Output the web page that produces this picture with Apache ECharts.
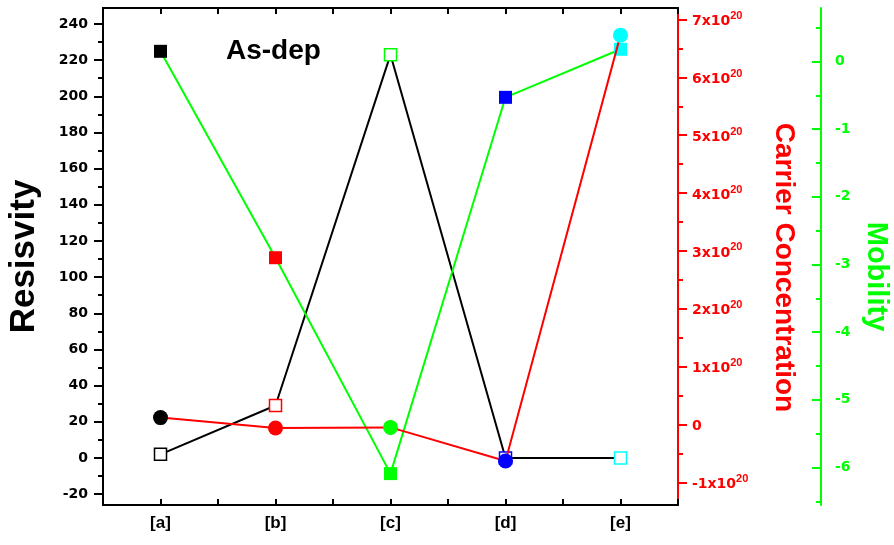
<!DOCTYPE html>
<html>
<head>
<meta charset="utf-8">
<title>As-dep</title>
<script src="https://cdn.jsdelivr.net/npm/echarts@6/dist/echarts.min.js"></script>
<style>
  html, body { margin: 0; padding: 0; background: #fff; }
  #chart { width: 894px; height: 545px; }
</style>
</head>
<body>
<div id="chart"></div>
<script>
// Sample categories and the colour used for each sample's markers
const categories = ['[a]', '[b]', '[c]', '[d]', '[e]'];
const pointColors = ['#000000', '#ff0000', '#00ff00', '#0000ff', '#00ffff'];

// Measured values per sample
const resistivity = [2, 29, 223, 0, 0];
const carrierE20 = [0.12, -0.06, -0.05, -0.63, 6.73];   // carrier concentration in units of 10^20
const mobility = [0.15, -2.9, -6.09, -0.53, 0.18];

// Axis ticks
const resistivityTicks = [-20, 0, 20, 40, 60, 80, 100, 120, 140, 160, 180, 200, 220, 240];
const resistivityMinor = [-10, 10, 30, 50, 70, 90, 110, 130, 150, 170, 190, 210, 230];
const carrierTicks = [-1, 0, 1, 2, 3, 4, 5, 6, 7];
const carrierMinor = [-0.5, 0.5, 1.5, 2.5, 3.5, 4.5, 5.5, 6.5];
const mobilityTicks = [-6, -5, -4, -3, -2, -1, 0];
const mobilityMinor = [-6.5, -5.5, -4.5, -3.5, -2.5, -1.5, -0.5, 0.5];

// Axis ranges
const resistivityRange = [-26, 248.8];
const carrierRange = [-1.391, 7.199];
const mobilityRange = [-6.554, 0.79];

const TICK_FONT = 'DejaVu Sans';
const NAME_FONT = 'Liberation Sans';

const chart = echarts.init(document.getElementById('chart'));

function valueAxis(opts) {
  return {
    type: 'value',
    gridIndex: 0,
    position: opts.position,
    offset: opts.offset || 0,
    min: opts.range[0],
    max: opts.range[1],
    splitLine: { show: false },
    axisLine: { show: !opts.minor, onZero: false, lineStyle: { color: opts.color, width: 2 } },
    axisTick: {
      show: true,
      inside: !!opts.inside,
      length: opts.minor ? 5 : 9,
      customValues: opts.ticks,
      lineStyle: { color: opts.color, width: 2 }
    },
    axisLabel: { show: false }
  };
}

const leftMain = valueAxis({ position: 'left', range: resistivityRange, color: '#000', ticks: resistivityTicks });
leftMain.axisLabel = {
  show: true, customValues: resistivityTicks, margin: 15,
  color: '#000', fontFamily: TICK_FONT, fontWeight: 'bold', fontSize: 14
};
leftMain.name = 'Resisvity';
leftMain.nameLocation = 'middle';
leftMain.nameRotate = 90;
leftMain.nameGap = 61;
leftMain.nameTextStyle = { color: '#000', fontFamily: NAME_FONT, fontWeight: 'bold', fontSize: 35 };

const leftMinor = valueAxis({ position: 'left', range: resistivityRange, color: '#000', ticks: resistivityMinor, minor: true });

const redMain = valueAxis({ position: 'right', range: carrierRange, color: '#ff0000', ticks: carrierTicks });
redMain.axisLabel = {
  show: true, customValues: carrierTicks, margin: 14,
  formatter: v => (v === 0 ? '{n|0}' : '{n|' + v + 'x10}{s|20}'),
  rich: {
    n: { color: '#ff0000', fontFamily: TICK_FONT, fontWeight: 'bold', fontSize: 14, lineHeight: 18, verticalAlign: 'bottom' },
    s: { color: '#ff0000', fontFamily: NAME_FONT, fontWeight: 'bold', fontSize: 11, lineHeight: 8, verticalAlign: 'top' }
  }
};
redMain.name = 'Carrier Concentration';
redMain.nameLocation = 'middle';
redMain.nameRotate = -90;
redMain.nameGap = 92;
redMain.nameTextStyle = {
  color: '#ff0000', fontFamily: NAME_FONT, fontWeight: 'bold', fontSize: 28,
  padding: [0, 0, 0, 22]
};

const redMinor = valueAxis({ position: 'right', range: carrierRange, color: '#ff0000', ticks: carrierMinor, minor: true });

const greenMain = valueAxis({ position: 'right', offset: 143, range: mobilityRange, color: '#00ff00', ticks: mobilityTicks, inside: true });
greenMain.axisLabel = {
  show: true, customValues: mobilityTicks, margin: 14,
  color: '#00ff00', fontFamily: TICK_FONT, fontWeight: 'bold', fontSize: 14
};
greenMain.name = 'Mobility';
greenMain.nameLocation = 'middle';
greenMain.nameRotate = -90;
greenMain.nameGap = 40;
greenMain.nameTextStyle = {
  color: '#00ff00', fontFamily: NAME_FONT, fontWeight: 'bold', fontSize: 29,
  padding: [0, 0, 0, 40]
};

const greenMinor = valueAxis({ position: 'right', offset: 143, range: mobilityRange, color: '#00ff00', ticks: mobilityMinor, minor: true, inside: true });

function categoryAxis(position, withLabels, alignWithLabel) {
  return {
    type: 'category',
    gridIndex: 0,
    position: position,
    data: categories,
    boundaryGap: true,
    axisLine: { show: true, onZero: false, lineStyle: { color: '#000', width: 2 } },
    axisTick: { show: true, inside: true, length: 6, alignWithLabel: alignWithLabel, lineStyle: { color: '#000', width: 2 } },
    axisLabel: withLabels
      ? { show: true, margin: 10, color: '#000', fontFamily: NAME_FONT, fontWeight: 'bold', fontSize: 17 }
      : { show: false },
    splitLine: { show: false }
  };
}

const markerStyle = (filled) => categories.map((c, i) => filled
  ? { color: pointColors[i] }
  : { color: '#ffffff', borderColor: pointColors[i], borderWidth: 1.5 });

chart.setOption({
  animation: false,
  backgroundColor: '#ffffff',
  title: {
    text: 'As-dep',
    left: 226,
    top: 37,
    padding: 0,
    textStyle: { color: '#000', fontFamily: NAME_FONT, fontWeight: 'bold', fontSize: 28 }
  },
  grid: { left: 103, right: 216, top: 8, bottom: 40, containLabel: false, outerBoundsMode: 'none' },
  xAxis: [
    categoryAxis('bottom', true, true),
    categoryAxis('bottom', false, false),
    categoryAxis('top', false, true),
    categoryAxis('top', false, false)
  ],
  yAxis: [leftMain, leftMinor, redMain, redMinor, greenMain, greenMinor],
  series: [
    {
      name: 'Resisvity',
      type: 'line',
      xAxisIndex: 0,
      yAxisIndex: 0,
      symbol: 'rect',
      symbolSize: 12,
      lineStyle: { color: '#000000', width: 2 },
      data: resistivity.map((v, i) => ({ value: v, itemStyle: markerStyle(false)[i] })),
      z: 2
    },
    {
      name: 'Mobility',
      type: 'line',
      xAxisIndex: 0,
      yAxisIndex: 4,
      symbol: 'rect',
      symbolSize: 13,
      lineStyle: { color: '#00ff00', width: 2 },
      data: mobility.map((v, i) => ({ value: v, itemStyle: markerStyle(true)[i] })),
      z: 3
    },
    {
      name: 'Carrier Concentration',
      type: 'line',
      xAxisIndex: 0,
      yAxisIndex: 2,
      symbol: 'circle',
      symbolSize: 15,
      lineStyle: { color: '#ff0000', width: 2 },
      data: carrierE20.map((v, i) => ({ value: v, itemStyle: markerStyle(true)[i] })),
      z: 4
    }
  ]
});
</script>
</body>
</html>
